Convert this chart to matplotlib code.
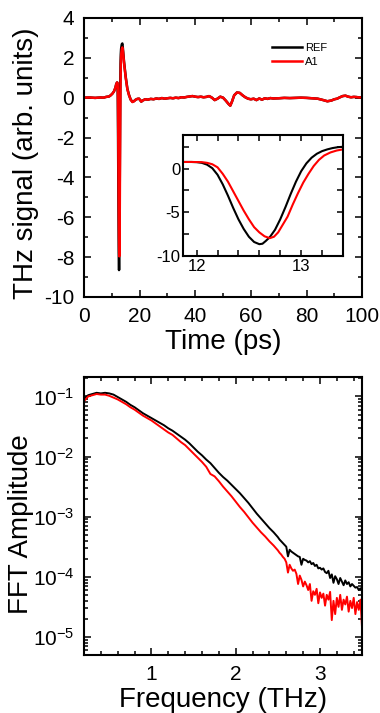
import numpy as np
import matplotlib
matplotlib.use("Agg")
import matplotlib.pyplot as plt
from matplotlib.ticker import MultipleLocator, LogLocator, NullFormatter

plt.rcParams['font.family'] = ['Liberation Sans', 'DejaVu Sans']
plt.rcParams['axes.unicode_minus'] = False
plt.rcParams['mathtext.fontset'] = 'custom'
plt.rcParams['mathtext.rm'] = 'Liberation Sans'
plt.rcParams['mathtext.it'] = 'Liberation Sans:italic'
plt.rcParams['mathtext.bf'] = 'Liberation Sans:bold'

# ---------------- time-domain data (ps, arb. units) ----------------
t_pre = [0, 2, 4, 6, 7, 8, 9, 9.6, 10.2, 10.8, 11.3, 11.6]
v_pre = [0.0, 0.01, -0.01, 0.01, 0.0, 0.04, 0.06, 0.12, 0.2, 0.32, 0.5, 0.68]

# pulse region (also shown in inset)
t_ref_pulse = [11.87, 11.95, 12.00, 12.05, 12.10, 12.15, 12.20, 12.25, 12.30, 12.35, 12.40,
               12.45, 12.50, 12.55, 12.60, 12.63, 12.66, 12.70, 12.75, 12.80, 12.85, 12.90,
               12.95, 13.00, 13.05, 13.10, 13.15, 13.20, 13.25, 13.30, 13.35, 13.40]
v_ref_pulse = [0.76, 0.76, 0.74, 0.66, 0.45, 0.05, -0.7, -1.8, -3.1, -4.5, -5.8,
               -6.9, -7.8, -8.4, -8.65, -8.6, -8.3, -7.85, -7.0, -5.8, -4.4, -2.9,
               -1.5, -0.3, 0.6, 1.25, 1.7, 2.0, 2.2, 2.35, 2.45, 2.5]
t_a1_pulse = [11.87, 11.95, 12.05, 12.10, 12.15, 12.20, 12.25, 12.30, 12.35, 12.40, 12.45,
              12.50, 12.55, 12.60, 12.65, 12.70, 12.74, 12.78, 12.82, 12.87, 12.92, 12.97,
              13.02, 13.07, 13.12, 13.17, 13.22, 13.28, 13.34, 13.40]
v_a1_pulse = [0.76, 0.76, 0.74, 0.66, 0.5, 0.15, -0.6, -1.5, -2.6, -3.7, -4.8,
              -5.8, -6.7, -7.3, -7.75, -7.96, -7.8, -7.3, -6.5, -5.5, -4.1, -2.8,
              -1.6, -0.6, 0.3, 1.0, 1.5, 1.85, 2.07, 2.2]

t_ref_post = [13.6, 13.8, 14.0, 14.4, 15.0, 15.6, 16.2, 16.8, 17.4, 18.0, 18.6, 19.2, 19.8, 20.6]
v_ref_post = [2.68, 2.72, 2.45, 1.8, 1.05, 0.45, 0.13, -0.1, -0.2, -0.17, -0.1, -0.06, -0.05, -0.2]
t_a1_post = [13.6, 13.8, 14.0, 14.4, 15.0, 15.6, 16.2, 16.8, 17.4, 18.0, 18.6, 19.2, 19.8, 20.6]
v_a1_post = [2.45, 2.52, 2.35, 1.75, 1.0, 0.42, 0.12, -0.1, -0.22, -0.18, -0.1, -0.06, -0.05, -0.2]

t_tail = [21, 22, 23, 24, 25, 26, 27, 28, 29, 30, 31, 32, 33, 34, 35, 36, 37, 38, 39, 40,
          41, 42, 43, 44, 45, 46, 47, 48, 49, 50, 51, 52, 52.6, 53.2, 54, 55, 56, 57, 58, 59,
          60, 61, 62, 63, 64, 65, 66, 67, 68, 70, 72, 74, 76, 78, 80, 82, 84, 86, 87.5, 89,
          90, 91, 92, 93, 94, 95, 96, 97, 98, 99, 100]
v_tail = [-0.15, -0.08, -0.1, -0.06, -0.08, -0.04, -0.06, -0.02, -0.05, -0.03, -0.01, -0.03,
          0.0, -0.02, 0.02, 0.01, 0.04, 0.06, 0.08, 0.05, 0.03, 0.05, 0.02, 0.04, 0.08, 0.0,
          -0.12, -0.05, 0.05, 0.0, -0.15, -0.32, -0.4, -0.2, 0.12, 0.26, 0.24, 0.12, 0.02,
          -0.05, -0.08, -0.05, -0.12, -0.04, -0.1, -0.03, -0.06, -0.02, -0.04, -0.03, -0.01,
          -0.02, -0.01, 0.0, -0.01, -0.03, -0.05, -0.12, -0.18, -0.14, -0.08, -0.05, 0.02,
          0.08, 0.1, 0.05, 0.02, 0.04, 0.03, 0.01, 0.02]

# ---------------- frequency-domain data (THz, log10 amplitude) ----------------
freq_smooth = [0.20, 0.25, 0.30, 0.35, 0.40, 0.45, 0.50, 0.55, 0.60, 0.65, 0.70, 0.75,
               0.80, 0.85, 0.90, 0.95, 1.00, 1.05, 1.10, 1.15, 1.20, 1.25, 1.30, 1.35,
               1.40, 1.45, 1.50, 1.55, 1.60, 1.65, 1.70, 1.75, 1.80, 1.85, 1.90, 1.95,
               2.00, 2.05, 2.10, 2.15, 2.20, 2.25, 2.30, 2.35, 2.40, 2.45, 2.50]
ref_log_smooth = [-1.04, -0.98, -0.96, -0.94, -0.95, -0.94, -0.95, -0.97, -1.01, -1.05,
                  -1.09, -1.14, -1.18, -1.23, -1.28, -1.32, -1.36, -1.40, -1.44, -1.48,
                  -1.53, -1.57, -1.62, -1.67, -1.72, -1.78, -1.85, -1.92, -1.98, -2.05,
                  -2.11, -2.19, -2.27, -2.34, -2.40, -2.47, -2.54, -2.61, -2.69, -2.77,
                  -2.86, -2.95, -3.03, -3.11, -3.19, -3.26, -3.34]
a1_log_smooth = [-1.08, -1.00, -0.98, -0.96, -0.97, -0.97, -0.99, -1.02, -1.05, -1.09,
                 -1.13, -1.18, -1.22, -1.27, -1.32, -1.36, -1.40, -1.45, -1.50, -1.55,
                 -1.60, -1.64, -1.70, -1.76, -1.81, -1.88, -1.95, -2.02, -2.09, -2.17,
                 -2.29, -2.33, -2.41, -2.50, -2.58, -2.66, -2.75, -2.84, -2.92, -3.01,
                 -3.10, -3.18, -3.26, -3.33, -3.41, -3.48, -3.56]
freq_noisy = [2.52, 2.54, 2.56, 2.58, 2.60, 2.62, 2.64, 2.66, 2.68, 2.70, 2.72, 2.74,
              2.76, 2.78, 2.80, 2.82, 2.84, 2.86, 2.88, 2.90, 2.92, 2.94, 2.96, 2.98,
              3.00, 3.02, 3.04, 3.06, 3.08, 3.10, 3.12, 3.14, 3.16, 3.18, 3.20, 3.22,
              3.24, 3.26, 3.28, 3.30, 3.32, 3.34, 3.36, 3.38, 3.40, 3.42, 3.44, 3.46,
              3.48, 3.50]
ref_log_noisy = [-3.38, -3.41, -3.44, -3.47, -3.50, -3.66, -3.55, -3.58, -3.60, -3.62,
                 -3.64, -3.66, -3.67, -3.80, -3.70, -3.72, -3.73, -3.76, -3.74, -3.79,
                 -3.77, -3.82, -3.80, -3.86, -3.85, -3.88, -3.86, -3.92, -3.94, -3.90,
                 -4.02, -3.96, -4.10, -3.99, -4.04, -4.12, -4.02, -4.08, -4.14, -4.06,
                 -4.12, -4.09, -4.16, -4.12, -4.15, -4.18, -4.17, -4.22, -4.19, -4.24]
a1_log_noisy = [-3.60, -3.63, -3.67, -3.70, -3.76, -3.93, -3.80, -3.86, -3.90, -3.88,
                -3.95, -4.12, -3.98, -4.05, -4.16, -4.08, -4.14, -4.22, -4.12, -4.40,
                -4.24, -4.30, -4.20, -4.44, -4.26, -4.35, -4.28, -4.48, -4.30, -4.38,
                -4.25, -4.72, -4.40, -4.62, -4.35, -4.50, -4.30, -4.55, -4.38, -4.46,
                -4.33, -4.58, -4.40, -4.52, -4.35, -4.62, -4.42, -4.55, -4.38, -4.88]

legend_labels = ['REF', 'A1']
c_ref, c_a1 = 'black', '#ff0000'

# ---------------- assemble ----------------
t_ref = np.array(t_pre + t_ref_pulse + t_ref_post + t_tail)
v_ref = np.array(v_pre + v_ref_pulse + v_ref_post + v_tail)
t_a1 = np.array(t_pre + t_a1_pulse + t_a1_post + t_tail)
v_a1 = np.array(v_pre + v_a1_pulse + v_a1_post + v_tail)
freq = np.array(freq_smooth + freq_noisy)
amp_ref = 10 ** np.array(ref_log_smooth + ref_log_noisy)
amp_a1 = 10 ** np.array(a1_log_smooth + a1_log_noisy)

fig = plt.figure(figsize=(3.8, 7.13), dpi=100)

def style(ax, size=15, pad=7, maj=5, mnr=3):
    ax.tick_params(which='both', direction='in', top=True, right=True, width=1.1,
                   labelsize=size, pad=pad)
    ax.tick_params(which='major', length=maj)
    ax.tick_params(which='minor', length=mnr)
    for s in ax.spines.values():
        s.set_linewidth(1.5)

# top panel
ax1 = fig.add_axes([0.221, 0.5835, 0.732, 0.3913])
l1, = ax1.plot(t_ref, v_ref, color=c_ref, lw=1.8)
l2, = ax1.plot(t_a1, v_a1, color=c_a1, lw=1.8)
ax1.set_xlim(0, 100)
ax1.set_ylim(-10, 4)
ax1.xaxis.set_major_locator(MultipleLocator(20))
ax1.xaxis.set_minor_locator(MultipleLocator(10))
ax1.yaxis.set_major_locator(MultipleLocator(2))
ax1.yaxis.set_minor_locator(MultipleLocator(1))
style(ax1)
ax1.set_xlabel('Time (ps)', fontsize=20)
ax1.set_ylabel('THz signal (arb. units)', fontsize=20)
ax1.xaxis.set_label_coords(0.5, -0.115)
ax1.yaxis.set_label_coords(-0.16, 0.48)
ax1.legend([l1, l2], legend_labels, loc='upper left', bbox_to_anchor=(0.675, 0.912),
           frameon=False, fontsize=8, handlelength=2.7, handletextpad=0.3,
           borderaxespad=0, borderpad=0, labelspacing=0.4)

# inset
axi = fig.add_axes([0.4816, 0.641, 0.421, 0.1697])
axi.plot(t_ref_pulse, v_ref_pulse, color=c_ref, lw=1.5)
axi.plot(t_a1_pulse, v_a1_pulse, color=c_a1, lw=1.5)
axi.set_xlim(11.87, 13.4)
axi.set_ylim(-10, 3.85)
axi.xaxis.set_major_locator(MultipleLocator(1))
axi.xaxis.set_minor_locator(MultipleLocator(0.2))
axi.yaxis.set_major_locator(MultipleLocator(5))
axi.yaxis.set_minor_locator(MultipleLocator(2.5))
style(axi, size=12, pad=2, maj=4, mnr=4)

# bottom panel
ax2 = fig.add_axes([0.221, 0.0813, 0.732, 0.3899])
ax2.semilogy(freq, amp_ref, color=c_ref, lw=1.4)
ax2.semilogy(freq, amp_a1, color=c_a1, lw=1.4)
ax2.set_xlim(0.2, 3.5)
ax2.set_ylim(5e-6, 0.21)
ax2.xaxis.set_major_locator(MultipleLocator(1))
ax2.xaxis.set_minor_locator(MultipleLocator(0.2))
ax2.yaxis.set_major_locator(LogLocator(base=10, numticks=10))
ax2.yaxis.set_minor_locator(LogLocator(base=10, subs=np.arange(2, 10), numticks=10))
ax2.yaxis.set_minor_formatter(NullFormatter())
style(ax2)
ax2.set_xlabel('Frequency (THz)', fontsize=20)
ax2.set_ylabel('FFT Amplitude', fontsize=20)
ax2.xaxis.set_label_coords(0.5, -0.115)
ax2.yaxis.set_label_coords(-0.18, 0.47)

fig.savefig('out.png', dpi=100)
